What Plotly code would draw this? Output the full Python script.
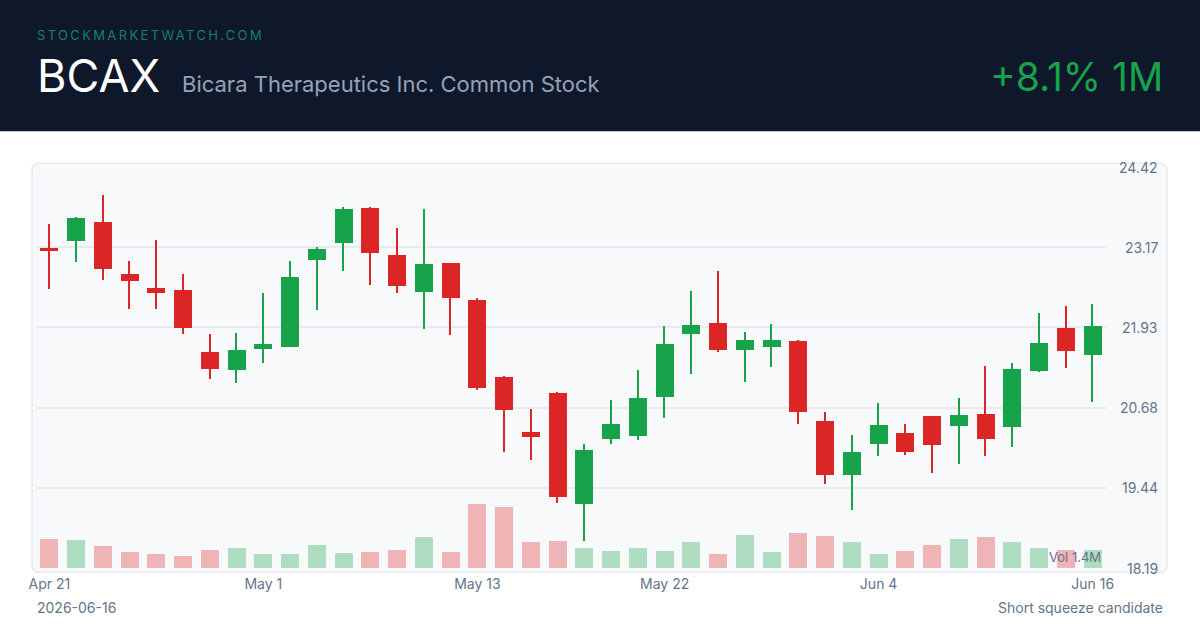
import plotly.graph_objects as go

# ---------------- data ----------------
dates = [
    "2026-04-21", "2026-04-22", "2026-04-23", "2026-04-24", "2026-04-27", "2026-04-28",
    "2026-04-29", "2026-04-30", "2026-05-01", "2026-05-04", "2026-05-05", "2026-05-06",
    "2026-05-07", "2026-05-08", "2026-05-11", "2026-05-12", "2026-05-13", "2026-05-14",
    "2026-05-15", "2026-05-18", "2026-05-19", "2026-05-20", "2026-05-21", "2026-05-22",
    "2026-05-26", "2026-05-27", "2026-05-28", "2026-05-29", "2026-06-01", "2026-06-02",
    "2026-06-03", "2026-06-04", "2026-06-05", "2026-06-08", "2026-06-09", "2026-06-10",
    "2026-06-11", "2026-06-12", "2026-06-15", "2026-06-16",
]
open_ = [23.16, 23.27, 23.56, 22.76, 22.54, 22.51, 21.54, 21.27, 21.60, 21.63,
         22.97, 23.24, 23.79, 23.06, 22.48, 22.93, 22.35, 21.15, 20.30, 20.91,
         19.18, 20.20, 20.24, 20.84, 21.82, 22.00, 21.58, 21.63, 21.72, 20.47,
         19.63, 20.11, 20.28, 20.55, 20.40, 20.58, 20.38, 21.25, 21.92, 21.50]
high = [23.54, 23.65, 23.98, 22.96, 23.29, 22.76, 21.82, 21.84, 22.46, 22.96,
        23.18, 23.80, 23.80, 23.48, 23.77, 22.93, 22.39, 21.18, 20.66, 20.92,
        20.12, 20.80, 21.26, 21.95, 22.50, 22.81, 21.85, 21.98, 21.73, 20.61,
        20.26, 20.75, 20.42, 20.55, 20.83, 21.33, 21.37, 22.15, 22.26, 22.29]
low = [22.53, 22.95, 22.66, 22.21, 22.21, 21.82, 21.12, 21.07, 21.37, 21.62,
       22.20, 22.81, 22.59, 22.46, 21.91, 21.81, 20.96, 20.00, 19.87, 19.20,
       18.61, 20.12, 20.18, 20.52, 21.20, 21.55, 21.08, 21.32, 20.43, 19.50,
       19.09, 19.93, 19.94, 19.66, 19.80, 19.93, 20.07, 21.24, 21.30, 20.77]
close = [23.11, 23.63, 22.84, 22.65, 22.47, 21.92, 21.28, 21.58, 21.67, 22.71,
         23.15, 23.77, 23.09, 22.57, 22.91, 22.38, 20.98, 20.65, 20.23, 19.29,
         20.02, 20.43, 20.83, 21.67, 21.97, 21.58, 21.74, 21.74, 20.62, 19.64,
         20.00, 20.41, 20.00, 20.10, 20.56, 20.20, 21.28, 21.69, 21.56, 21.95]
volume_m = [2.23, 2.18, 1.69, 1.22, 1.07, 0.96, 1.42, 1.56, 1.09, 1.09,
            1.77, 1.17, 1.24, 1.38, 2.39, 1.27, 4.95, 4.72, 2.00, 2.08,
            1.56, 1.35, 1.56, 1.32, 2.00, 1.11, 2.54, 1.24, 2.70, 2.47,
            2.00, 1.09, 1.30, 1.77, 2.23, 2.43, 2.05, 1.53, 1.40, 1.40]

price_ticks = [24.42, 23.17, 21.93, 20.68, 19.44, 18.19]
x_tick_dates = ["2026-04-21", "2026-05-01", "2026-05-13", "2026-05-22", "2026-06-04", "2026-06-16"]
x_tick_labels = ["Apr 21", "May 1", "May 13", "May 22", "Jun 4", "Jun 16"]

ticker = "BCAX"
company = "Bicara Therapeutics Inc. Common Stock"
site = "STOCKMARKETWATCH.COM"
change_text = "+8.1% 1M"
date_text = "2026-06-16"
note_text = "Short squeeze candidate"
vol_text = "Vol 1.4M"

# ---------------- styling ----------------
GREEN = "#16a34a"
RED = "#dc2626"
GREEN_VOL = "rgba(22,163,74,0.32)"
RED_VOL = "rgba(220,38,38,0.32)"
FONT = "Inter"
MUTED = "#64748b"

W, H = 1200, 630
PL, PR, PT, PB = 36, 1106, 167.3, 567.7  # plot area in px


def px_x(x):
    return (x - PL) / (PR - PL)


def px_y(y):
    return (PB - y) / (PB - PT)


up = [c >= o for o, c in zip(open_, close)]
cand_col = [GREEN if u else RED for u in up]
vol_col = [GREEN_VOL if u else RED_VOL for u in up]
body_base = [min(o, c) for o, c in zip(open_, close)]
body_h = [max(abs(c - o), 0.02) for o, c in zip(open_, close)]
wick_h = [h - l for h, l in zip(high, low)]

fig = go.Figure()

# volume (primary y, hidden)
fig.add_trace(go.Bar(x=dates, y=volume_m, marker=dict(color=vol_col, line=dict(width=0)),
                     width=0.68, yaxis="y", hoverinfo="skip", showlegend=False))
# wicks
fig.add_trace(go.Bar(x=dates, y=wick_h, base=low, marker=dict(color=cand_col, line=dict(width=0)),
                     width=0.06, yaxis="y2", hoverinfo="skip", showlegend=False))
# bodies
fig.add_trace(go.Bar(x=dates, y=body_h, base=body_base, marker=dict(color=cand_col, line=dict(width=0)),
                     width=0.68, yaxis="y2", hoverinfo="skip", showlegend=False))

# ---------------- shapes ----------------
def rounded_rect(x0, y0, x1, y1, r):
    X = lambda v: px_x(v)
    Y = lambda v: px_y(v)
    return (f"M {X(x0 + r)} {Y(y0)} L {X(x1 - r)} {Y(y0)} Q {X(x1)} {Y(y0)} {X(x1)} {Y(y0 + r)} "
            f"L {X(x1)} {Y(y1 - r)} Q {X(x1)} {Y(y1)} {X(x1 - r)} {Y(y1)} "
            f"L {X(x0 + r)} {Y(y1)} Q {X(x0)} {Y(y1)} {X(x0)} {Y(y1 - r)} "
            f"L {X(x0)} {Y(y0 + r)} Q {X(x0)} {Y(y0)} {X(x0 + r)} {Y(y0)} Z")


shapes = [
    dict(type="rect", xref="paper", yref="paper", x0=px_x(0), x1=px_x(W), y0=px_y(131.5), y1=px_y(0),
         fillcolor="#0f172a", line=dict(width=0), layer="below"),
    dict(type="path", xref="paper", yref="paper", path=rounded_rect(32, 163.5, 1167, 572, 7),
         fillcolor="#f8f9fb", line=dict(color="#e6e9ef", width=1.5), layer="below"),
]

# ---------------- annotations ----------------
ann = []
ann.append(dict(xref="paper", yref="paper", x=px_x(34.5), y=px_y(35), xanchor="left", yanchor="middle",
                text=f'<span style="letter-spacing:2.35px">{site}</span>', showarrow=False,
                font=dict(family=FONT, size=13, color="#13806b")))
ann.append(dict(xref="paper", yref="paper", x=px_x(35), y=px_y(75.5), xanchor="left", yanchor="middle",
                text=ticker, showarrow=False, font=dict(family=FONT, size=45, color="#ffffff")))
ann.append(dict(xref="paper", yref="paper", x=px_x(179.5), y=px_y(84), xanchor="left", yanchor="middle",
                text=company, showarrow=False, font=dict(family=FONT, size=22, color="#94a3b8")))
ann.append(dict(xref="paper", yref="paper", x=px_x(1165), y=px_y(76.5), xanchor="right", yanchor="middle",
                text=change_text, showarrow=False, font=dict(family=FONT, size=39, color=GREEN)))
for v in price_ticks:
    ann.append(dict(xref="paper", yref="y2", x=px_x(1160), y=v, xanchor="right", yanchor="middle",
                    text=f"{v:.2f}", showarrow=False, font=dict(family=FONT, size=14, color=MUTED)))
ann.append(dict(xref="paper", yref="paper", x=px_x(35), y=px_y(607), xanchor="left", yanchor="middle",
                text=date_text, showarrow=False, font=dict(family=FONT, size=14, color=MUTED)))
ann.append(dict(xref="paper", yref="paper", x=px_x(1165), y=px_y(607), xanchor="right", yanchor="middle",
                text=note_text, showarrow=False, font=dict(family=FONT, size=14, color=MUTED)))
ann.append(dict(xref="paper", yref="paper", x=px_x(1103), y=px_y(557), xanchor="right", yanchor="middle",
                text=vol_text, showarrow=False, font=dict(family=FONT, size=13, color=MUTED)))

fig.update_layout(
    width=W, height=H,
    margin=dict(l=PL, r=W - PR, t=PT, b=H - PB, pad=0),
    paper_bgcolor="#ffffff", plot_bgcolor="rgba(0,0,0,0)",
    barmode="overlay", bargap=0,
    showlegend=False,
    font=dict(family=FONT, color=MUTED),
    xaxis=dict(type="category", categoryorder="array", categoryarray=dates,
               range=[-0.5, len(dates) - 0.5], showgrid=False, zeroline=False, showline=False,
               tickmode="array", tickvals=x_tick_dates, ticktext=x_tick_labels, ticks="",
               tickfont=dict(family=FONT, size=14, color=MUTED), ticklabelstandoff=6,
               fixedrange=True),
    yaxis=dict(range=[0, 31.1], visible=False, showgrid=False, fixedrange=True),
    yaxis2=dict(range=[min(price_ticks), max(price_ticks)], overlaying="y", side="right",
                tickmode="array", tickvals=price_ticks, showticklabels=False, ticks="",
                showgrid=True, gridcolor="#e7eaf0", gridwidth=1.5, zeroline=False, showline=False,
                fixedrange=True),
    shapes=shapes,
    annotations=ann,
)

fig.write_html("out.html")
